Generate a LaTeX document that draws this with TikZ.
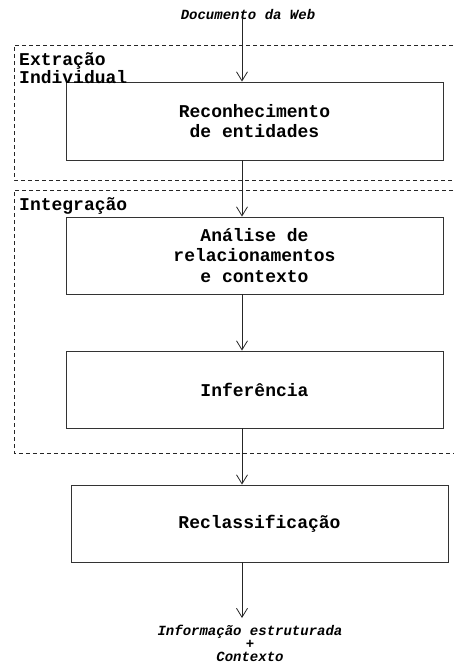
\documentclass[tikz,border=0pt]{standalone}
\usepackage{fontspec}
\setmainfont{Liberation Mono}
\usetikzlibrary{arrows.meta}
\begin{document}
\begin{tikzpicture}[x=1pt,y=-1pt,
    etapa/.style={rectangle,draw=black!80,line width=0.9pt,minimum width=377pt,minimum height=77pt,inner sep=0pt,align=center,font=\fontsize{18}{20.5}\selectfont\bfseries},
    grupo/.style={draw=black!85,line width=0.8pt,dash pattern=on 4pt off 3pt},
    rotulo/.style={align=center,inner sep=0pt,font=\fontsize{14}{13}\selectfont\bfseries\itshape},
    seta/.style={-{Straight Barb[length=9pt,width=11pt]},line width=0.8pt,black!85}]
    \useasboundingbox (0,0) rectangle (454,672);
    \coordinate (eixo) at (242,0) ;
    \node[rotulo] (doc) at (248,14) {Documento da Web} ;
    \node[etapa,minimum height=78pt] (reconhec) at (254.5,121) {Reconhecimento\\de entidades} ;
    \node[etapa] (analise) at (254.5,255.5) {Análise de\\relacionamentos\\e contexto} ;
    \node[etapa] (inferencia) at (254.5,389.5) {Inferência} ;
    \node[etapa] (reclass) at (259.5,523.5) {Reclassificação} ;
    \node[rotulo] (saida) at (250,643) {Informação estruturada\\+\\Contexto} ;
    \coordinate (fim) at (242,618) ;

    \coordinate (g1nw) at (14,45) ;
    \coordinate (g1sw) at (14,180) ;
    \coordinate (g2nw) at (14,190) ;
    \coordinate (g2sw) at (14,453) ;
    \draw[grupo] (g1nw -| 460,0) -- (g1nw) -- (g1sw) -- (g1sw -| 460,0) ;
    \draw[grupo] (g2nw -| 460,0) -- (g2nw) -- (g2sw) -- (g2sw -| 460,0) ;
    \node[anchor=north west,align=left,inner sep=0pt,font=\fontsize{18}{13}\selectfont\bfseries] (extracao) at (19,52) {Extração\\Individual} ;
    \node[anchor=north west,align=left,inner sep=0pt,font=\fontsize{18}{13}\selectfont\bfseries] (integracao) at (19,197) {Integração} ;

    \draw[seta] (doc.south -| eixo) -- (reconhec.north -| eixo) ;
    \draw[seta] (reconhec.south -| eixo) -- (analise.north -| eixo) ;
    \draw[seta] (analise.south -| eixo) -- (inferencia.north -| eixo) ;
    \draw[seta] (inferencia.south -| eixo) -- (reclass.north -| eixo) ;
    \draw[seta] (reclass.south -| eixo) -- (fim) ;
\end{tikzpicture}
\end{document}
